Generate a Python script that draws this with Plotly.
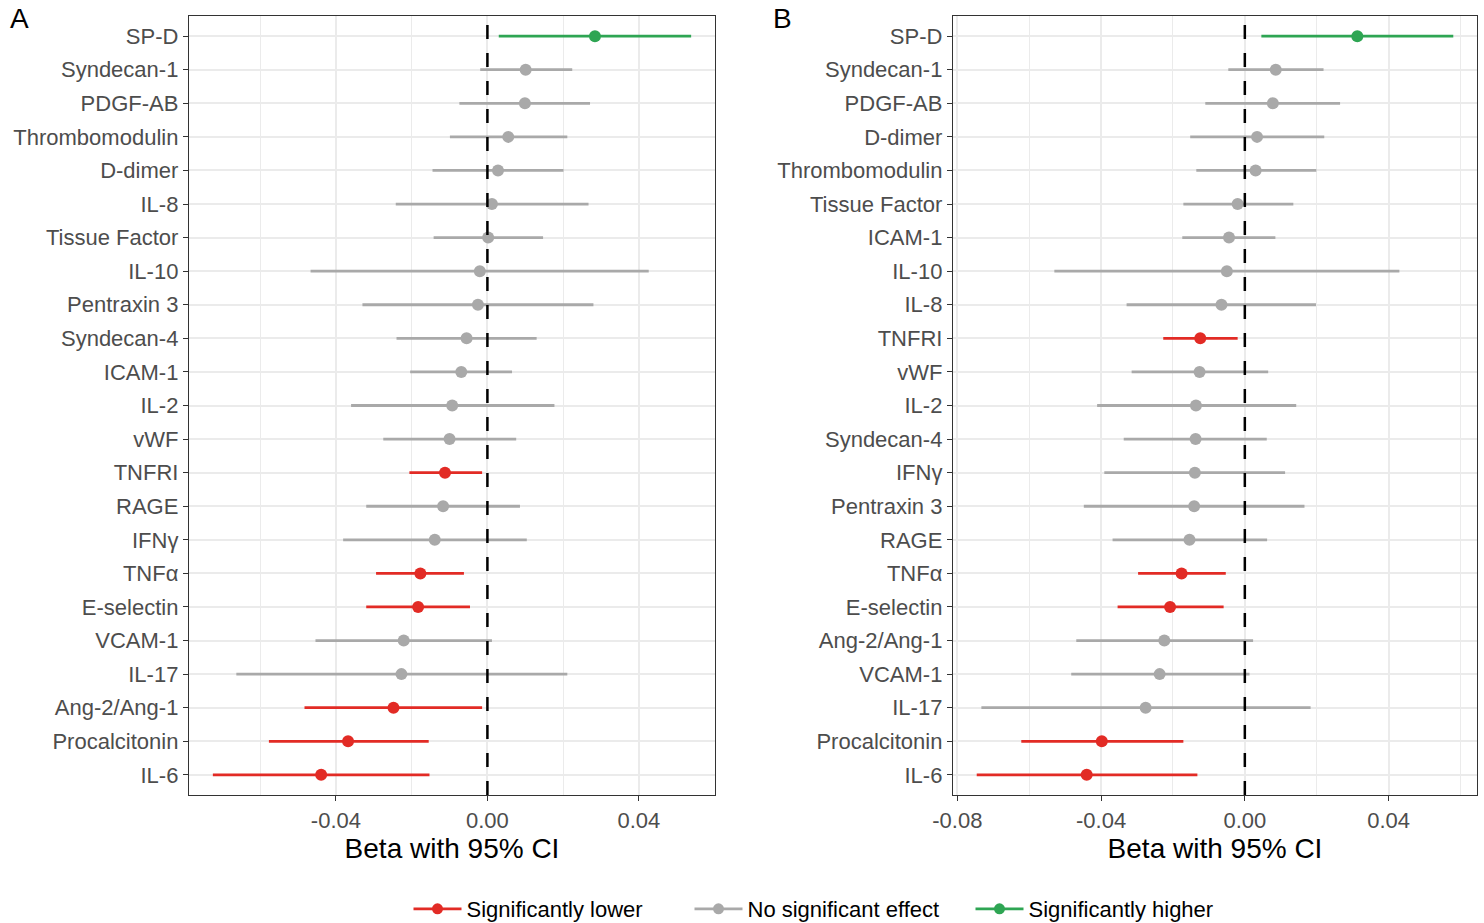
import plotly.graph_objects as go

# ---------------- data (top-to-bottom order as drawn) ----------------
markers_A = ["SP-D", "Syndecan-1", "PDGF-AB", "Thrombomodulin", "D-dimer", "IL-8",
             "Tissue Factor", "IL-10", "Pentraxin 3", "Syndecan-4", "ICAM-1", "IL-2",
             "vWF", "TNFRI", "RAGE", "IFNγ", "TNFα", "E-selectin", "VCAM-1", "IL-17",
             "Ang-2/Ang-1", "Procalcitonin", "IL-6"]
beta_A = [0.0284, 0.0101, 0.0099, 0.0055, 0.0028, 0.0012, 0.0002, -0.0020, -0.0025,
          -0.0055, -0.0069, -0.0093, -0.0100, -0.0112, -0.0117, -0.0139, -0.0177,
          -0.0183, -0.0221, -0.0227, -0.0248, -0.0368, -0.0439]
lo_A = [0.0030, -0.0019, -0.0074, -0.0099, -0.0145, -0.0242, -0.0142, -0.0467, -0.0330,
        -0.0240, -0.0204, -0.0360, -0.0275, -0.0206, -0.0320, -0.0381, -0.0294,
        -0.0320, -0.0454, -0.0663, -0.0483, -0.0577, -0.0725]
hi_A = [0.0538, 0.0224, 0.0271, 0.0211, 0.0201, 0.0267, 0.0147, 0.0426, 0.0280,
        0.0130, 0.0065, 0.0177, 0.0076, -0.0014, 0.0086, 0.0104, -0.0062, -0.0046,
        0.0012, 0.0211, -0.0014, -0.0155, -0.0153]
sig_A = ["higher", "ns", "ns", "ns", "ns", "ns", "ns", "ns", "ns", "ns", "ns", "ns",
         "ns", "lower", "ns", "ns", "lower", "lower", "ns", "ns", "lower", "lower", "lower"]

markers_B = ["SP-D", "Syndecan-1", "PDGF-AB", "D-dimer", "Thrombomodulin", "Tissue Factor",
             "ICAM-1", "IL-10", "IL-8", "TNFRI", "vWF", "IL-2", "Syndecan-4", "IFNγ",
             "Pentraxin 3", "RAGE", "TNFα", "E-selectin", "Ang-2/Ang-1", "VCAM-1", "IL-17",
             "Procalcitonin", "IL-6"]
beta_B = [0.0313, 0.0086, 0.0078, 0.0034, 0.0030, -0.0020, -0.0044, -0.0050, -0.0065,
          -0.0124, -0.0126, -0.0136, -0.0137, -0.0139, -0.0141, -0.0154, -0.0176,
          -0.0208, -0.0224, -0.0237, -0.0276, -0.0398, -0.0440]
lo_B = [0.0046, -0.0046, -0.0110, -0.0152, -0.0135, -0.0171, -0.0174, -0.0530, -0.0329,
        -0.0227, -0.0315, -0.0411, -0.0337, -0.0391, -0.0448, -0.0368, -0.0297,
        -0.0354, -0.0469, -0.0483, -0.0733, -0.0622, -0.0746]
hi_B = [0.0580, 0.0219, 0.0265, 0.0221, 0.0199, 0.0135, 0.0085, 0.0430, 0.0198,
        -0.0020, 0.0065, 0.0143, 0.0061, 0.0112, 0.0166, 0.0062, -0.0053, -0.0059,
        0.0023, 0.0013, 0.0183, -0.0171, -0.0132]
sig_B = ["higher", "ns", "ns", "ns", "ns", "ns", "ns", "ns", "ns", "lower", "ns", "ns",
         "ns", "ns", "ns", "ns", "lower", "lower", "ns", "ns", "ns", "lower", "lower"]

groups = ["lower", "ns", "higher"]
group_labels = ["Significantly lower", "No significant effect", "Significantly higher"]
group_colors = {"lower": "#E22B25", "ns": "#A9A9A9", "higher": "#2EA553"}

x_ticks_A = [-0.04, 0.0, 0.04]
x_minor_A = [-0.06, -0.02, 0.02]
x_ticks_B = [-0.08, -0.04, 0.0, 0.04]
x_minor_B = [-0.06, -0.02, 0.02, 0.06]

FONT = "Liberation Sans, Arial, sans-serif"
W, H = 1484, 923

fig = go.Figure()


def add_panel(names, beta, lo, hi, sig, xa, ya):
    for g in ["ns", "lower", "higher"]:
        idx = [i for i, s in enumerate(sig) if s == g]
        if not idx:
            continue
        fig.add_trace(go.Scatter(
            x=[beta[i] for i in idx],
            y=[names[i] for i in idx],
            mode="markers",
            marker=dict(color=group_colors[g], size=12),
            error_x=dict(type="data", symmetric=False,
                         array=[hi[i] - beta[i] for i in idx],
                         arrayminus=[beta[i] - lo[i] for i in idx],
                         width=0, thickness=2.8, color=group_colors[g]),
            xaxis=xa, yaxis=ya, showlegend=False, hoverinfo="x+y",
        ))


add_panel(markers_A, beta_A, lo_A, hi_A, sig_A, "x", "y")
add_panel(markers_B, beta_B, lo_B, hi_B, sig_B, "x2", "y2")

# legend proxies
for g, lab in zip(groups, group_labels):
    fig.add_trace(go.Scatter(x=[None], y=[None], mode="lines+markers", name=lab,
                             line=dict(color=group_colors[g], width=2.8),
                             marker=dict(color=group_colors[g], size=11),
                             xaxis="x", yaxis="y"))

yA_dom = [1 - 795 / H, 1 - 16 / H]


def x_axis(dom, rng, ticks, minor):
    return dict(
        domain=dom, range=rng, tickmode="array", tickvals=ticks,
        ticktext=[f"{v:.2f}" for v in ticks], automargin=False,
        minor=dict(tickmode="array", tickvals=minor, showgrid=True,
                   gridcolor="#EBEBEB", gridwidth=1.1, ticks=""),
        showgrid=True, gridcolor="#EBEBEB", gridwidth=2, zeroline=False,
        showline=True, mirror=True, linecolor="#333333", linewidth=1.4,
        ticks="outside", ticklen=5, tickwidth=1.4, tickcolor="#333333",
        tickfont=dict(family=FONT, size=22, color="#4D4D4D"),
        title=dict(text="Beta with 95% CI", font=dict(family=FONT, size=28, color="black"),
                   standoff=6),
    )


def y_axis(names, anchor):
    return dict(
        domain=yA_dom, type="category", categoryorder="array", automargin=False,
        categoryarray=list(reversed(names)), range=[-0.6, len(names) - 0.4],
        showgrid=True, gridcolor="#EBEBEB", gridwidth=2, zeroline=False,
        showline=True, mirror=True, linecolor="#333333", linewidth=1.4,
        ticks="outside", ticklen=5, tickwidth=1.4, tickcolor="#333333",
        tickfont=dict(family=FONT, size=22, color="#4D4D4D"), anchor=anchor,
    )


fig.update_layout(
    width=W, height=H,
    margin=dict(l=0, r=0, t=0, b=0, autoexpand=False),
    paper_bgcolor="white", plot_bgcolor="white",
    font=dict(family=FONT),
    xaxis=x_axis([189 / W, 715 / W], [-0.0788, 0.0601], x_ticks_A, x_minor_A) | dict(anchor="y"),
    yaxis=y_axis(markers_A, "x"),
    xaxis2=x_axis([953 / W, 1477 / W], [-0.0812, 0.0646], x_ticks_B, x_minor_B) | dict(anchor="y2"),
    yaxis2=y_axis(markers_B, "x2"),
    legend=dict(orientation="h", x=830 / W, xanchor="center", y=(H - 909) / H,
                yanchor="middle", font=dict(family=FONT, size=22, color="black"),
                bgcolor="rgba(0,0,0,0)", entrywidth=218, itemwidth=48),
    showlegend=True,
    shapes=[
        dict(type="line", xref="x", yref="y domain", x0=0, x1=0, y0=0, y1=1,
             line=dict(color="black", width=2.5, dash="14px,14px"), layer="above"),
        dict(type="line", xref="x2", yref="y2 domain", x0=0, x1=0, y0=0, y1=1,
             line=dict(color="black", width=2.5, dash="14px,14px"), layer="above"),
    ],
    annotations=[
        dict(text="A", xref="paper", yref="paper", x=8 / W, y=1 - 18 / H,
             xanchor="left", yanchor="middle", showarrow=False,
             font=dict(family=FONT, size=28, color="black")),
        dict(text="B", xref="paper", yref="paper", x=771 / W, y=1 - 18 / H,
             xanchor="left", yanchor="middle", showarrow=False,
             font=dict(family=FONT, size=28, color="black")),
    ],
)

fig.write_html("out.html", config={"displayModeBar": False},
               post_script="document.body.style.margin='0px';document.body.style.overflow='hidden';")
